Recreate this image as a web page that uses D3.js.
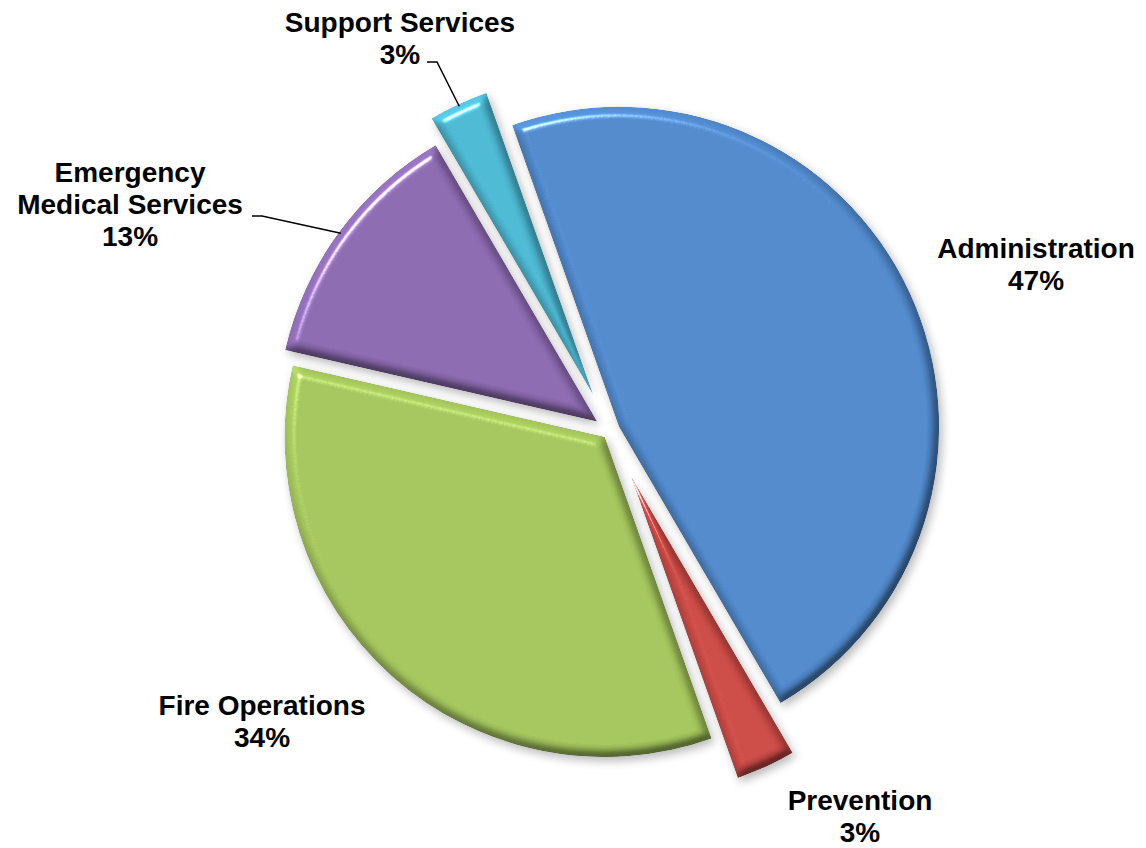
<!DOCTYPE html>
<html>
<head>
<meta charset="utf-8">
<script src="https://cdn.jsdelivr.net/npm/d3@7"></script>
<style>
  body { margin: 0; background: #fff; }
  text { font-family: "Liberation Sans", Arial, sans-serif; font-weight: bold; font-size: 28px; fill: #000; }
</style>
</head>
<body>
<svg id="chart" width="1146" height="848"></svg>
<script>
const categories = ['Administration', 'Prevention', 'Fire Operations', 'Emergency Medical Services', 'Support Services'];
const shares = [47, 3, 34, 13, 3];
const labelLines = [['Administration'], ['Prevention'], ['Fire Operations'], ['Emergency', 'Medical Services'], ['Support Services']];

// layout
const colors = ['#4f87c9', '#c94a45', '#a2c35b', '#8968ad', '#4bb6d0'];
const explode = [10, 50, 8, 16, 40];
const labelPos = [[1036, 258], [860, 810], [262, 715], [130, 182], [400, 32]];  // centre x, first baseline
const leaderElbow = {3: [[252, 216], [262, 216]], 4: [[427, 62], [437, 62]]};

const cx = 610, cy = 431, r = 320, lineGap = 32;
const start = -19.5 * Math.PI / 180;

const svg = d3.select('#chart');
const defs = svg.append('defs');

// soft shadow
const shadow = defs.append('filter').attr('id', 'shadow')
    .attr('x', '-20%').attr('y', '-20%').attr('width', '140%').attr('height', '140%');
shadow.append('feGaussianBlur').attr('in', 'SourceAlpha').attr('stdDeviation', 5);
shadow.append('feOffset').attr('dx', 3).attr('dy', 4);
shadow.append('feComponentTransfer').append('feFuncA').attr('type', 'linear').attr('slope', 0.28);

// rounded bevel: multiply by diffuse light, add a specular rim
const bevel = defs.append('filter').attr('id', 'bevel')
    .attr('x', '-5%').attr('y', '-5%').attr('width', '110%').attr('height', '110%')
    .attr('color-interpolation-filters', 'sRGB');
bevel.append('feGaussianBlur').attr('in', 'SourceAlpha').attr('stdDeviation', 5).attr('result', 'blur');
bevel.append('feDiffuseLighting').attr('in', 'blur').attr('surfaceScale', 9)
    .attr('diffuseConstant', 1).attr('lighting-color', '#fff').attr('result', 'light')
  .append('feDistantLight').attr('azimuth', 235).attr('elevation', 50);
bevel.append('feComposite').attr('in', 'SourceGraphic').attr('in2', 'light')
    .attr('operator', 'arithmetic')
    .attr('k1', 0.6).attr('k2', 0.54).attr('k3', 0).attr('k4', 0).attr('result', 'shaded');
bevel.append('feSpecularLighting').attr('in', 'blur').attr('surfaceScale', 9)
    .attr('specularConstant', 0.8).attr('specularExponent', 60)
    .attr('lighting-color', '#fff').attr('result', 'spec')
  .append('feDistantLight').attr('azimuth', 235).attr('elevation', 50);
bevel.append('feComposite').attr('in', 'spec').attr('in2', 'SourceAlpha')
    .attr('operator', 'in').attr('result', 'specIn');
bevel.append('feComposite').attr('in', 'shaded').attr('in2', 'specIn')
    .attr('operator', 'arithmetic')
    .attr('k1', 0).attr('k2', 1).attr('k3', 1).attr('k4', 0).attr('result', 'lit');
bevel.append('feComposite').attr('in', 'lit').attr('in2', 'SourceAlpha').attr('operator', 'in');

const pie = d3.pie().sort(null).value(d => d)
    .startAngle(start).endAngle(start + 2 * Math.PI);
const arcs = pie(shares);
const arc = d3.arc().innerRadius(0).outerRadius(r);

function offset(d, i) {
  const a = (d.startAngle + d.endAngle) / 2;
  return [cx + Math.sin(a) * explode[i], cy - Math.cos(a) * explode[i]];
}

svg.append('g').selectAll('path').data(arcs).join('path')
    .attr('transform', (d, i) => 'translate(' + offset(d, i) + ')')
    .attr('d', arc)
    .attr('fill', '#000')
    .attr('filter', 'url(#shadow)');

svg.append('g').selectAll('path').data(arcs).join('path')
    .attr('transform', (d, i) => 'translate(' + offset(d, i) + ')')
    .attr('d', arc)
    .attr('fill', (d, i) => colors[i])
    .attr('filter', 'url(#bevel)')
  .append('title').text((d, i) => categories[i] + ': ' + shares[i] + '%');

// leader lines
Object.keys(leaderElbow).forEach(k => {
  const i = +k, d = arcs[i], o = offset(d, i);
  const a = (d.startAngle + d.endAngle) / 2;
  const end = [o[0] + Math.sin(a) * (r - 2), o[1] - Math.cos(a) * (r - 2)];
  svg.append('path')
      .attr('d', d3.line()(leaderElbow[i].concat([end])))
      .attr('fill', 'none').attr('stroke', '#000').attr('stroke-width', 1.5);
});

// labels
const labels = svg.append('g').selectAll('text').data(arcs).join('text')
    .attr('text-anchor', 'middle')
    .attr('transform', (d, i) => 'translate(' + labelPos[i] + ')');

labels.each(function(d, i) {
  const t = d3.select(this);
  labelLines[i].concat([shares[i] + '%']).forEach((line, j) => {
    t.append('tspan').attr('x', 0).attr('y', j * lineGap).text(line);
  });
});
</script>
</body>
</html>
